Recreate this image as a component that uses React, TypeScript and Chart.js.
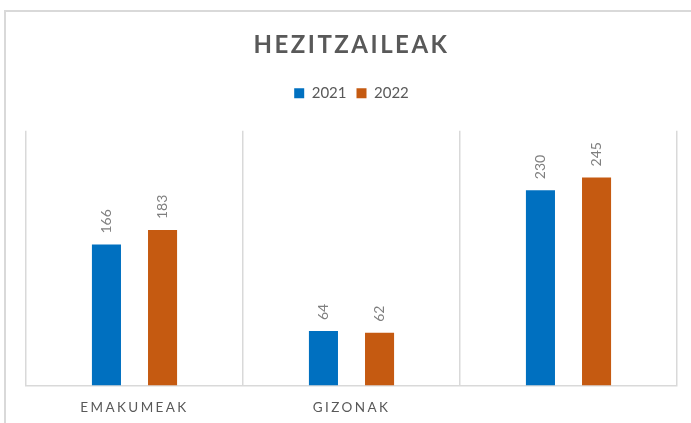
import React, { useEffect, useRef } from 'react';
import { Chart, registerables } from 'chart.js';

Chart.register(...registerables);

const categories = ['EMAKUMEAK', 'GIZONAK', ''];
const seriesNames = ['2021', '2022'];
const values2021 = [166, 64, 230];
const values2022 = [183, 62, 245];
const seriesColors = ['#0070C0', '#C55A11'];
const chartTitle = 'HEZITZAILEAK';
const yMax = 300;

const FONT = 'Lato, "Open Sans", sans-serif';

function spacingFor(font: string): string {
  if (font.includes('bold') && font.includes('24px')) return '2.5px';
  if (font.includes('13.5px')) return '2.4px';
  return '0px';
}

const frameAndSpacing = {
  id: 'frameAndSpacing',
  beforeLayout(chart: any) {
    const lg = chart.legend;
    if (lg && !lg.__patched) {
      const orig = lg.fit;
      lg.fit = function () {
        orig.call(this);
        this.height += 20;
      };
      lg.__patched = true;
    }
  },
  beforeDraw(chart: any) {
    const ctx = chart.ctx;
    ctx.save();
    ctx.fillStyle = '#ffffff';
    ctx.fillRect(0, 0, chart.width, chart.height);
    ctx.strokeStyle = '#d9d9d9';
    ctx.lineWidth = 2;
    ctx.strokeRect(5, 11, 900, 900);
    ctx.restore();
  },
};

const valueLabels = {
  id: 'valueLabels',
  afterDatasetsDraw(chart: any) {
    const ctx = chart.ctx;
    chart.data.datasets.forEach((ds: any, di: number) => {
      const meta = chart.getDatasetMeta(di);
      meta.data.forEach((el: any, i: number) => {
        const v = ds.data[i];
        if (v == null) return;
        ctx.save();
        ctx.font = `14px ${FONT}`;
        (ctx as any).letterSpacing = '0px';
        ctx.fillStyle = '#7f7f7f';
        ctx.textAlign = 'left';
        ctx.textBaseline = 'middle';
        ctx.translate(el.x, el.y - 11);
        ctx.rotate(-Math.PI / 2);
        ctx.fillText(String(v), 0, 0);
        ctx.restore();
      });
    });
  },
};

export default function App() {
  const ref = useRef<HTMLCanvasElement | null>(null);

  useEffect(() => {
    const canvas = ref.current;
    if (!canvas) return;
    const ctx = canvas.getContext('2d') as any;
    const desc = Object.getOwnPropertyDescriptor(CanvasRenderingContext2D.prototype, 'font');
    if (desc && desc.set && desc.get) {
      Object.defineProperty(ctx, 'font', {
        configurable: true,
        get() {
          return desc.get!.call(this);
        },
        set(v: string) {
          desc.set!.call(this, v);
          this.letterSpacing = spacingFor(v);
        },
      });
    }

    const chart = new Chart(canvas, {
      type: 'bar',
      data: {
        labels: categories,
        datasets: [
          {
            label: seriesNames[0],
            data: values2021,
            backgroundColor: seriesColors[0],
            borderWidth: 0,
            categoryPercentage: 0.517,
            barPercentage: 0.518,
          },
          {
            label: seriesNames[1],
            data: values2022,
            backgroundColor: seriesColors[1],
            borderWidth: 0,
            categoryPercentage: 0.517,
            barPercentage: 0.518,
          },
        ],
      },
      options: {
        animation: false,
        responsive: false,
        maintainAspectRatio: false,
        layout: { padding: { left: 26, right: 14, top: 0, bottom: -6.6 } },
        plugins: {
          title: {
            display: true,
            text: chartTitle,
            color: '#595959',
            font: { family: FONT, size: 24, weight: 'bold', lineHeight: 1.2 },
            padding: { top: 31, bottom: 16 },
          },
          legend: {
            display: true,
            position: 'top',
            labels: {
              color: '#595959',
              font: { family: FONT, size: 15 },
              boxWidth: 10,
              boxHeight: 10,
              padding: 10,
            },
          },
          tooltip: { enabled: false },
        },
        scales: {
          x: {
            grid: {
              display: true,
              color: '#d9d9d9',
              lineWidth: 1.5,
              drawTicks: false,
              offset: true,
            },
            border: { display: true, color: '#d9d9d9', width: 1.5 },
            ticks: {
              color: '#595959',
              font: { family: FONT, size: 13.5 },
              padding: 14,
            },
          },
          y: {
            display: false,
            min: 0,
            max: yMax,
          },
        },
      },
      plugins: [frameAndSpacing, valueLabels],
    });

    return () => chart.destroy();
  }, []);

  return (
    <div style={{ position: 'fixed', left: 0, top: 0, width: 691, height: 423, background: '#fff' }}>
      <canvas ref={ref} width={691} height={423} style={{ display: 'block', width: 691, height: 423 }} />
    </div>
  );
}
